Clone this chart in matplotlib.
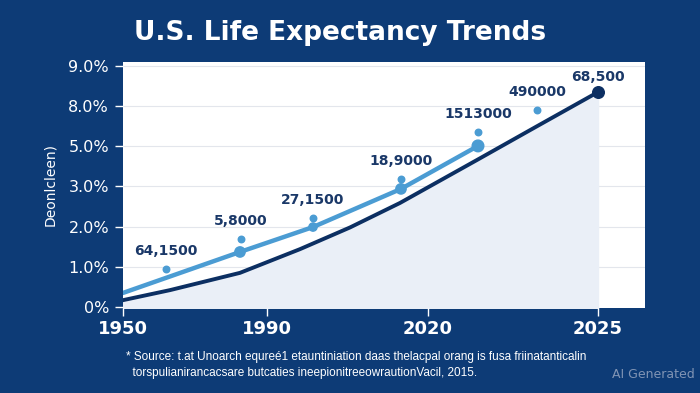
import matplotlib.pyplot as plt
import numpy as np

# tick labels (axis is not linear in the reference, ticks are evenly spaced on y)
y_tick_pos = [0, 1, 2, 3, 4, 5, 6]
y_tick_labels = ["0%", "1.0%", "2.0%", "3.0%", "5.0%", "8.0%", "9.0%"]
x_tick_pos = [0, 14.4, 30.5, 47.5]
x_tick_labels = ["1950", "1990", "2020", "2025"]

# dark navy trend line
dark_x = [0, 4.7, 11.7, 17.7, 22.7, 27.7, 35.4, 41.4, 47.5]
dark_y = [0.17, 0.42, 0.85, 1.44, 1.98, 2.59, 3.66, 4.50, 5.35]

# light blue line
light_x = [0, 11.7, 19.0, 27.8, 35.5]
light_y = [0.35, 1.37, 1.99, 2.94, 4.01]

# small dots with value labels
dot_x = [4.3, 11.8, 19.0, 27.8, 35.5, 41.4]
dot_y = [0.95, 1.69, 2.22, 3.19, 4.36, 4.90]
dot_labels = ["64,1500", "5,8000", "27,1500", "18,9000", "1513000", "490000"]
end_label = "68,500"

bg = "#0d3b76"
navy = "#0c2f62"
light = "#4b9cd3"

fig = plt.figure(figsize=(7, 3.93), dpi=100)
fig.patch.set_facecolor(bg)
ax = fig.add_axes([0.1757, 0.2163, 0.7457, 0.626])
ax.set_facecolor("white")

ax.fill_between(dark_x, dark_y, -1, color="#eaeff7", zorder=1)
for yt in y_tick_pos[1:]:
    ax.axhline(yt, color="#e3e6ec", lw=0.8, zorder=0.5)

ax.plot(light_x, light_y, color=light, lw=3.2, solid_capstyle="round", zorder=3)
ax.scatter(light_x[1:], light_y[1:], s=[55, 35, 55, 70], color=light, zorder=4)
ax.plot(dark_x, dark_y, color=navy, lw=2.8, zorder=3)
ax.scatter([dark_x[-1]], [dark_y[-1]], s=70, color=navy, zorder=5)

ax.scatter(dot_x, dot_y, s=22, color=light, zorder=4)
for x, y, t in zip(dot_x, dot_y, dot_labels):
    ax.annotate(t, (x, y), xytext=(0, 8), textcoords="offset points",
                ha="center", va="bottom", fontsize=10, color="#1a3868",
                fontweight="semibold")
ax.annotate(end_label, (dark_x[-1], dark_y[-1]), xytext=(0, 6),
            textcoords="offset points", ha="center", va="bottom",
            fontsize=10, color="#1a3868", fontweight="semibold")

ax.set_xlim(0, 52.2)
ax.set_ylim(-0.025, 6.1)
ax.set_yticks(y_tick_pos)
ax.set_yticklabels(y_tick_labels)
ax.set_xticks(x_tick_pos)
ax.set_xticklabels(x_tick_labels)
ax.tick_params(axis="y", colors="white", labelsize=11.5, length=6, width=1, pad=4)
ax.tick_params(axis="x", colors="white", labelsize=13, length=6, width=1, pad=3)
for lab in ax.get_xticklabels():
    lab.set_fontweight("semibold")
for s in ax.spines.values():
    s.set_visible(False)

ax.set_ylabel("Deonlcleen)", color="white", fontsize=10, labelpad=8)

fig.text(0.486, 0.915, "U.S. Life Expectancy Trends", color="white",
         fontsize=19, fontweight="bold", ha="center", va="center")
fig.text(0.18, 0.071,
         "* Source: t.at Unoarch equre\u00e91 etauntiniation daas thelacpal orang is fusa friinatanticalin\n"
         "  torspulianirancacsare butcaties ineepionitreeowrautionVacil, 2015.",
         color="white", fontsize=8.5, ha="left", va="center", linespacing=1.5,
         family=["Liberation Sans Narrow", "Liberation Sans", "DejaVu Sans"])
fig.text(0.993, 0.03, "AI Generated", color="#8094b4", fontsize=9,
         ha="right", va="bottom")

fig.savefig("out.png", dpi=100, facecolor=bg)
